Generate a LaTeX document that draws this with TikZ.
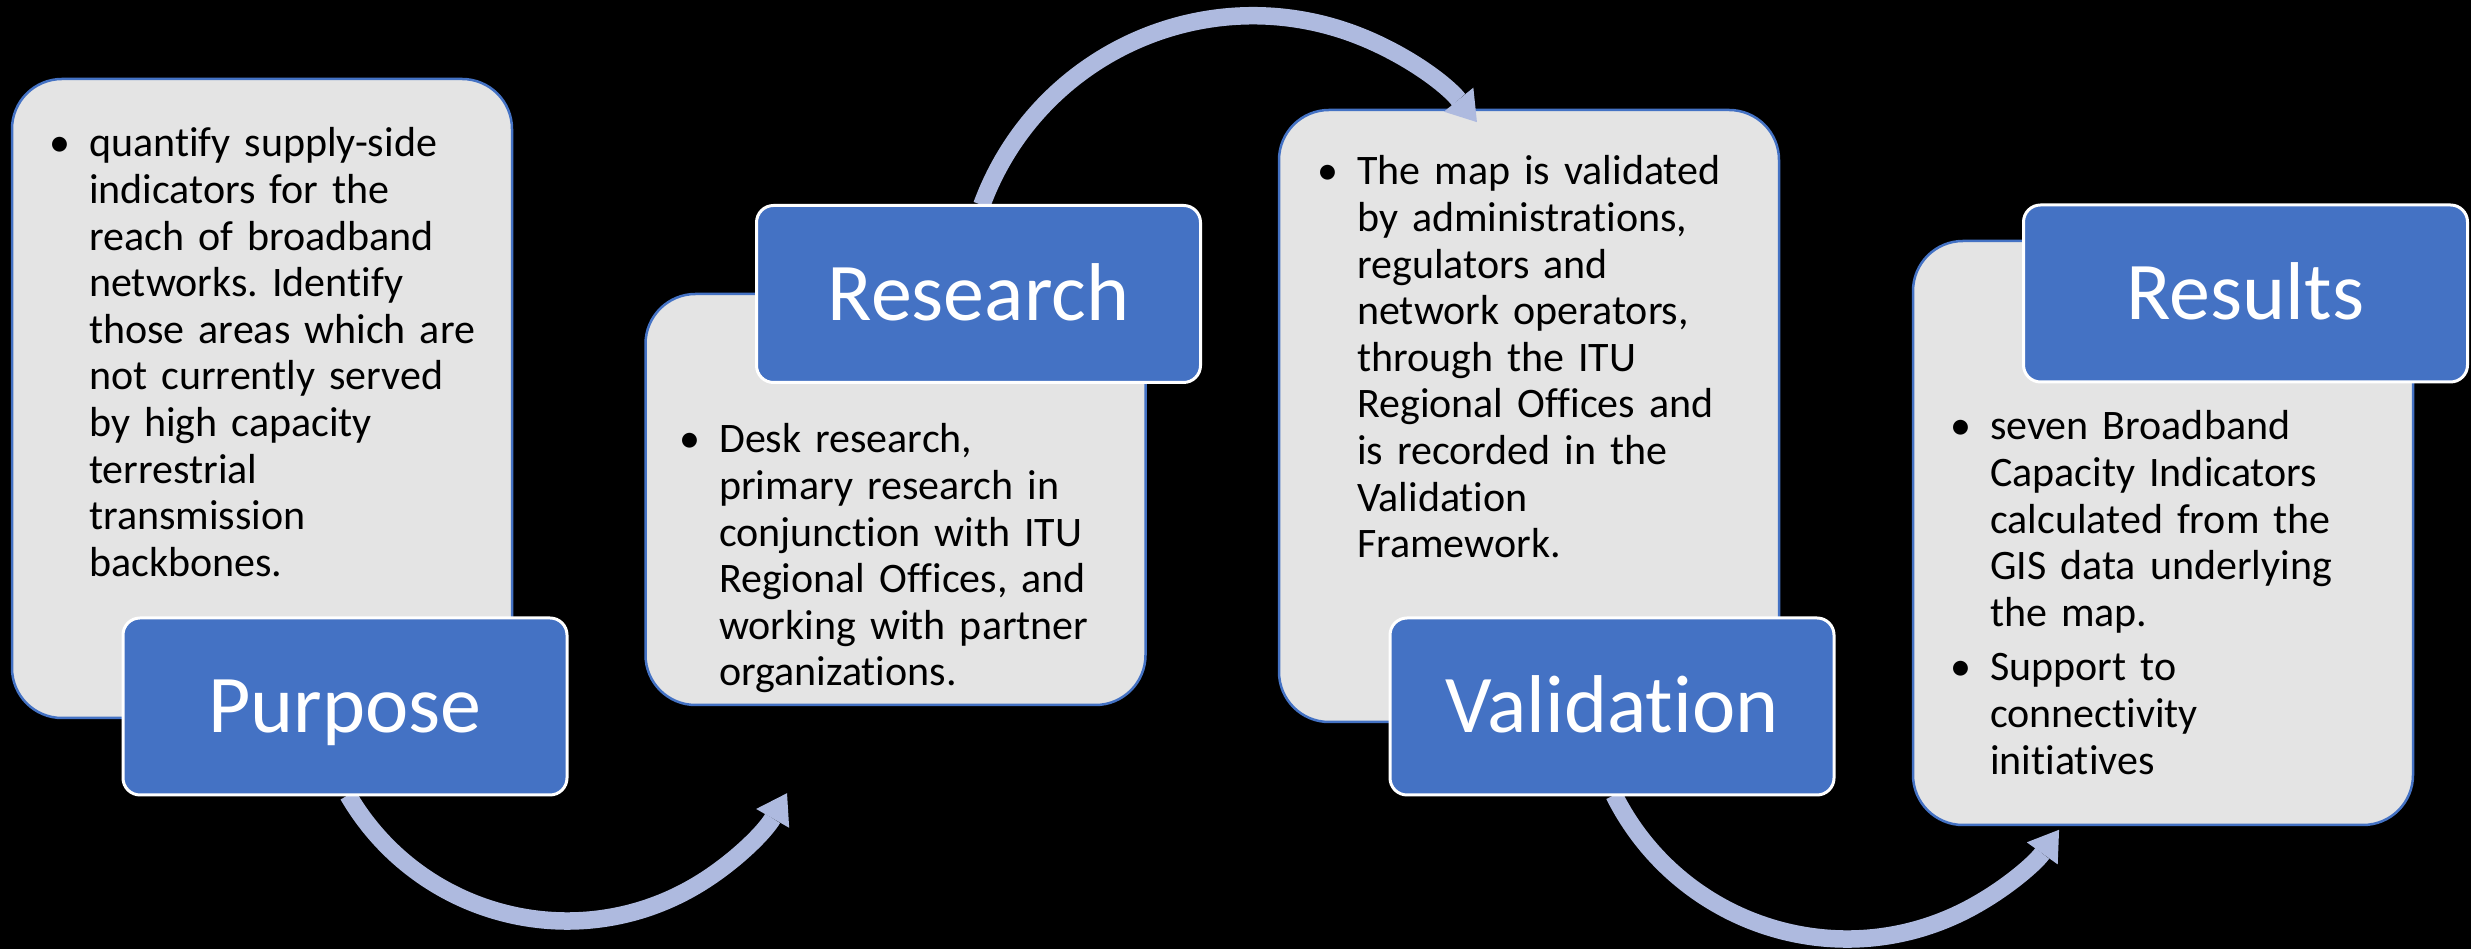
\documentclass[tikz,border=0pt]{standalone}
\usepackage{fontspec}
\setmainfont{Carlito}[Ligatures={NoCommon}]
\usetikzlibrary{arrows.meta}
\definecolor{boxblue}{HTML}{4472C4}
\definecolor{panelgrey}{HTML}{E4E4E4}
\definecolor{arrowblue}{HTML}{AEBADF}
\tikzset{
  panel/.style={draw=boxblue, line width=2.5pt, fill=panelgrey, rounded corners=50pt,
    minimum width=500pt, inner sep=0pt},
  titlebox/.style={draw=white, line width=3pt, fill=boxblue, rounded corners=17pt,
    minimum width=444pt, minimum height=177pt, inner sep=0pt, text=white,
    font=\fontsize{82}{98}\selectfont, text height=53pt, text depth=0pt},
  bodytext/.style={anchor=base west, inner sep=0pt, text width=440pt, align=left,
    font=\fontsize{42}{46.6}\selectfont\frenchspacing, text=black},
  flow/.style={draw=arrowblue, line width=17.5pt,
    -{Triangle[width=38pt,length=29pt,line width=0pt]}},
}
\newcommand{\bul}{\leavevmode\llap{•\hspace{19pt}}}
\begin{document}
\begin{tikzpicture}[x=1pt,y=1pt]
  % canvas
  \fill[black] (0,0) rectangle (2471,949);
  \useasboundingbox (0,0) rectangle (2471,949);

  % grey description panels
  \node[panel, minimum height=639pt] (purposepanel)    at (262,550.5)  {};
  \node[panel, minimum height=411pt] (researchpanel)   at (895.5,449.5) {};
  \node[panel, minimum height=612pt] (validationpanel) at (1529,533)   {};
  \node[panel, minimum height=584pt] (resultspanel)    at (2163,416)   {};

  % panel texts
  \node[bodytext] (purposetext) at (89,792) {\bul quantify supply-side\\indicators for the\\reach of broadband\\networks. Identify\\those areas which are\\not currently served\\by high capacity\\terrestrial\\transmission\\backbones.};
  \node[bodytext] (researchtext) at (719,496) {\bul Desk research,\\primary research in\\conjunction with ITU\\Regional Offices, and\\working with partner\\organizations.};
  \node[bodytext] (validationtext) at (1357,764) {\bul The map is validated\\by administrations,\\regulators and\\network operators,\\through the ITU\\Regional Offices and\\is recorded in the\\Validation\\Framework.};
  \node[bodytext] (resultstext) at (1990,509) {\bul seven Broadband\\Capacity Indicators\\calculated from the\\GIS data underlying\\the map.\\[8pt]\bul Support to\\connectivity\\initiatives};

  % centres of the curved flow arrows
  \coordinate (arcA) at (567,281.3);
  \coordinate (arcB) at (1253,644.2);
  \coordinate (arcC) at (1847,270.5);

  % curved arrows between the stages
  \draw[flow] ([shift={(210.2:253.3pt)}]arcA) arc[start angle=210.2, end angle=330.3, radius=253.3pt];
  \draw[flow] ([shift={(159.8:289pt)}]arcB) arc[start angle=159.8, end angle=39.2, radius=289pt];
  \draw[flow] ([shift={(206.6:260.5pt)}]arcC) arc[start angle=206.6, end angle=324.5, radius=260.5pt];

  % stage titles
  \node[titlebox] (purpose)    at (345,242.5)  {Purpose};
  \node[titlebox] (research)   at (978.5,655)  {Research};
  \node[titlebox] (validation) at (1612,242.5) {Validation};
  \node[titlebox] (results)    at (2245.5,655.5) {Results};
\end{tikzpicture}
\end{document}
